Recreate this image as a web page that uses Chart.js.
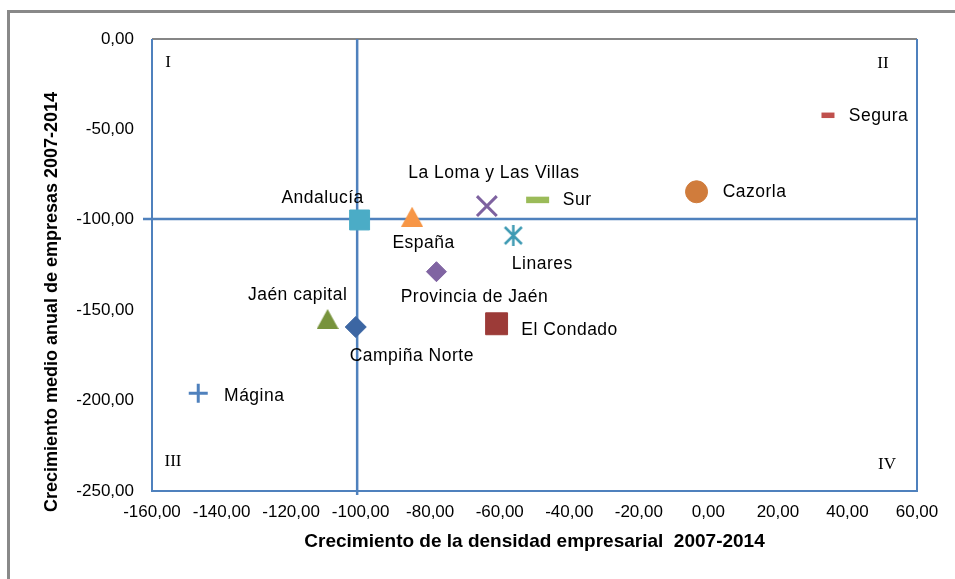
<!DOCTYPE html>
<html><head><meta charset="utf-8">
<script src="https://cdn.jsdelivr.net/npm/chart.js@4"></script>
<style>html,body{margin:0;padding:0;background:#fff;}</style>
</head><body>
<canvas id="c" width="955" height="579" style="display:block;width:955px;height:579px"></canvas>
<script>
// ---- data ----
const places = ['Segura','Cazorla','Sur','La Loma y Las Villas','Andalucía','España','Linares','Provincia de Jaén','Jaén capital','El Condado','Campiña Norte','Mágina'];
const densityGrowth = [34.4, -3.4, -49.1, -63.7, -100.3, -85.2, -56.1, -78.2, -109.5, -60.9, -101.4, -146.7];
const firmGrowth    = [-42.2, -84.5, -89.0, -92.4, -100.1, -98.3, -108.7, -128.7, -154.9, -157.5, -159.3, -196.0];
const xTickValues = [-160, -140, -120, -100, -80, -60, -40, -20, 0, 20, 40, 60];
const yTickValues = [-250, -200, -150, -100, -50, 0];
const quadrantCross = { x: -101, y: -99.5 };
const quadrantNames = ['I', 'II', 'III', 'IV'];
const xTitle = 'Crecimiento de la densidad empresarial  2007-2014';
const yTitle = 'Crecimiento medio anual de empresas 2007-2014';

// ---- styles ----
const FONT = '"Liberation Sans", Arial, sans-serif';
const markerStyle = {
  'Segura': { shape: 'line', color: '#C0504D', r: 6.5, bw: 5.5 },
  'Cazorla': { shape: 'circle', color: '#D07C3C', r: 11, bw: 1 },
  'Sur': { shape: 'line', color: '#9BBB59', r: 11.5, bw: 6.5 },
  'La Loma y Las Villas': { shape: 'crossRot', color: '#7E62A0', r: 14, bw: 3 },
  'Andalucía': { shape: 'rect', color: '#4BACC6', r: 14.1, bw: 1 },
  'España': { shape: 'tri', color: '#F79646', w: 22, h: 20 },
  'Linares': { shape: 'asterisk', color: '#3E9AB3', w: 21, h: 21 },
  'Provincia de Jaén': { shape: 'rectRot', color: '#8064A2', r: 10, bw: 1 },
  'Jaén capital': { shape: 'tri', color: '#77933C', w: 22, h: 20 },
  'El Condado': { shape: 'rect', color: '#9C3B38', r: 15.5, bw: 1 },
  'Campiña Norte': { shape: 'rectRot', color: '#3C66A3', r: 10.5, bw: 1 },
  'Mágina': { shape: 'cross', color: '#4F81BD', r: 9.5, bw: 3 }
};
const labelOffset = {
  'Segura': [50.5, 1], 'Cazorla': [58, 0], 'Sur': [39.5, 0], 'La Loma y Las Villas': [7, -33],
  'Andalucía': [-37, -22], 'España': [11.5, 26], 'Linares': [29, 29], 'Provincia de Jaén': [38, 25],
  'Jaén capital': [-30, -24], 'El Condado': [73, 6], 'Campiña Norte': [56, 29], 'Mágina': [56, 3]
};

function makeTri(color, w, h) {
  const c = document.createElement('canvas'); c.width = w; c.height = h;
  const g = c.getContext('2d'); g.fillStyle = color;
  g.beginPath(); g.moveTo(w / 2, 0); g.lineTo(w, h); g.lineTo(0, h); g.closePath(); g.fill();
  return c;
}
function makeAst(color, w, h) {
  const c = document.createElement('canvas'); c.width = w; c.height = h;
  const g = c.getContext('2d'); g.strokeStyle = color; g.lineWidth = 2.5;
  g.beginPath();
  g.moveTo(w / 2, 0); g.lineTo(w / 2, h);
  g.moveTo(2, 2); g.lineTo(w - 2, h - 2);
  g.moveTo(w - 2, 2); g.lineTo(2, h - 2);
  g.stroke();
  return c;
}

const datasets = places.map((name, i) => {
  const s = markerStyle[name];
  const ds = { label: name, data: [{ x: densityGrowth[i], y: firmGrowth[i] }], showLine: false };
  if (s.shape === 'tri') { ds.pointStyle = makeTri(s.color, s.w, s.h); ds.pointRadius = 11; }
  else if (s.shape === 'asterisk') { ds.pointStyle = makeAst(s.color, s.w, s.h); ds.pointRadius = 11; }
  else {
    ds.pointStyle = s.shape; ds.pointRadius = s.r; ds.pointBorderWidth = s.bw;
    ds.pointBackgroundColor = s.color; ds.pointBorderColor = s.color;
  }
  return ds;
});

const fmt = v => Number(v).toFixed(2).replace('.', ',');

const decor = {
  id: 'decor',
  beforeDraw(chart) {
    const ctx = chart.ctx;
    ctx.save();
    ctx.fillStyle = '#fff'; ctx.fillRect(0, 0, chart.width, chart.height);
    ctx.strokeStyle = '#898989'; ctx.lineWidth = 3;
    ctx.strokeRect(8.5, 11.5, 1000, 1000);
    ctx.restore();
  },
  beforeDatasetsDraw(chart) {
    const { ctx, chartArea: a, scales: { x, y } } = chart;
    ctx.save();
    // plot-area frame
    ctx.lineWidth = 2;
    ctx.strokeStyle = '#868686';
    ctx.beginPath(); ctx.moveTo(a.left, a.top); ctx.lineTo(a.right, a.top); ctx.stroke();
    ctx.strokeStyle = '#4F81BD';
    ctx.beginPath(); ctx.moveTo(a.left, a.top); ctx.lineTo(a.left, a.bottom); ctx.lineTo(a.right, a.bottom); ctx.lineTo(a.right, a.top); ctx.stroke();
    // quadrant lines
    const qx = x.getPixelForValue(quadrantCross.x), qy = y.getPixelForValue(quadrantCross.y);
    ctx.lineWidth = 2.5; ctx.strokeStyle = '#4F81BD';
    ctx.beginPath(); ctx.moveTo(qx, a.top); ctx.lineTo(qx, a.bottom + 4); ctx.stroke();
    ctx.beginPath(); ctx.moveTo(a.left - 9, qy); ctx.lineTo(a.right, qy); ctx.stroke();
    // quadrant names
    ctx.fillStyle = '#000'; ctx.font = '17px "Liberation Serif", "Times New Roman", serif';
    ctx.textAlign = 'center'; ctx.textBaseline = 'middle';
    ctx.fillText(quadrantNames[0], a.left + 16, a.top + 24);
    ctx.fillText(quadrantNames[1], a.right - 34, a.top + 25);
    ctx.fillText(quadrantNames[2], a.left + 21, a.bottom - 29);
    ctx.fillText(quadrantNames[3], a.right - 30, a.bottom - 26);
    // y axis title
    ctx.font = 'bold 18px ' + FONT;
    ctx.translate(52, 302); ctx.rotate(-Math.PI / 2);
    ctx.fillText(yTitle, 0, 0);
    ctx.restore();
  },
  afterDatasetsDraw(chart) {
    const { ctx, scales: { x, y } } = chart;
    ctx.save();
    ctx.fillStyle = '#000'; ctx.font = '17.5px ' + FONT;
    if ('letterSpacing' in ctx) ctx.letterSpacing = '0.5px';
    ctx.textAlign = 'center'; ctx.textBaseline = 'middle';
    places.forEach((name, i) => {
      const px = x.getPixelForValue(densityGrowth[i]), py = y.getPixelForValue(firmGrowth[i]);
      const o = labelOffset[name];
      ctx.fillText(name, px + o[0], py + o[1]);
    });
    ctx.restore();
  }
};

new Chart(document.getElementById('c'), {
  type: 'scatter',
  data: { datasets },
  options: {
    responsive: false, animation: false, events: [], devicePixelRatio: 1,
    layout: { padding: { left: 0, top: 39, right: 38, bottom: 0 } },
    plugins: { legend: { display: false }, tooltip: { enabled: false } },
    scales: {
      x: {
        type: 'linear', min: -160, max: 60,
        afterBuildTicks: s => { s.ticks = xTickValues.map(v => ({ value: v })); },
        afterFit: s => { s.height = 88; },
        grid: { display: false, drawTicks: false },
        border: { display: false },
        ticks: { color: '#000', font: { family: FONT, size: 17 }, padding: 11, maxRotation: 0, autoSkip: false, callback: fmt },
        title: { display: true, text: xTitle, color: '#000', font: { family: FONT, size: 19, weight: 'bold' }, padding: { top: 0, bottom: 26 } }
      },
      y: {
        type: 'linear', min: -250, max: 0,
        afterBuildTicks: s => { s.ticks = yTickValues.map(v => ({ value: v })); },
        afterFit: s => { s.width = 152; },
        grid: { display: false, drawTicks: false },
        border: { display: false },
        ticks: { color: '#000', font: { family: FONT, size: 17 }, padding: 18, autoSkip: false, callback: fmt }
      }
    }
  },
  plugins: [decor]
});
</script>
</body></html>
